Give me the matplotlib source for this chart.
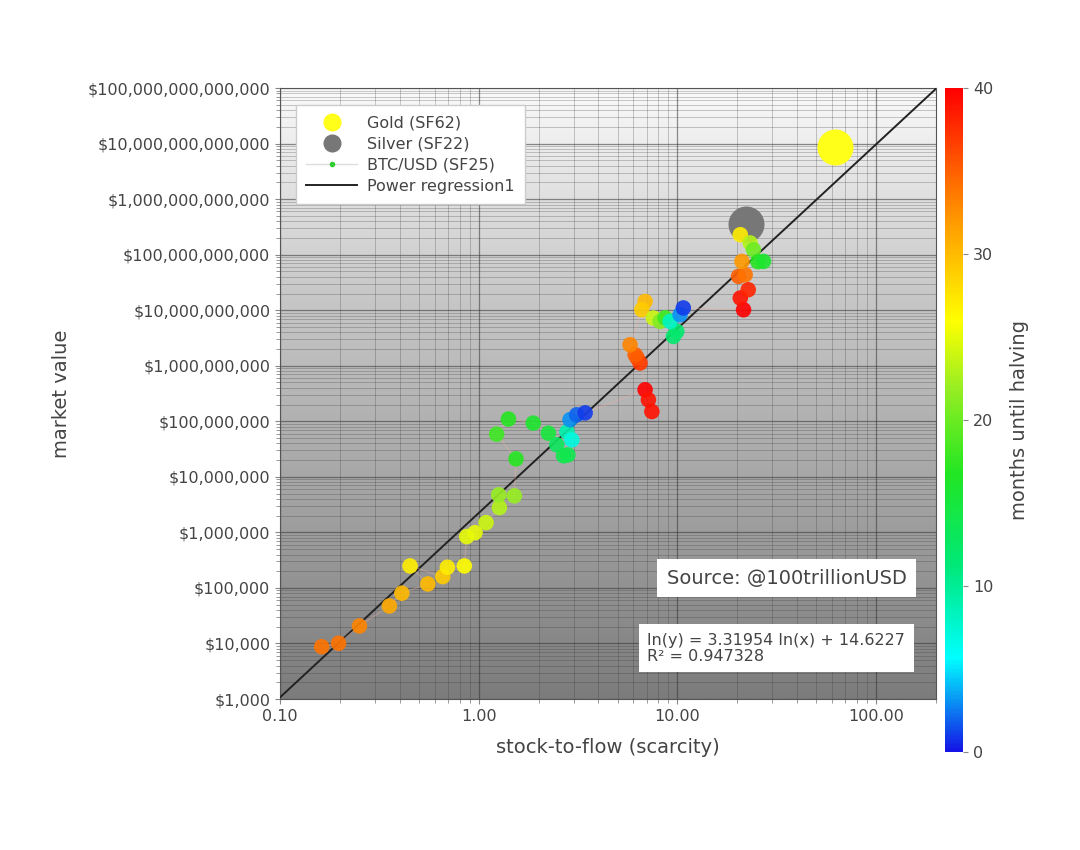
import matplotlib
matplotlib.use("Agg")
import matplotlib.pyplot as plt
import matplotlib.ticker as mticker
from matplotlib.colors import LinearSegmentedColormap
from matplotlib.lines import Line2D
import numpy as np

# BTC/USD monthly points: stock-to-flow, market value, months until halving
btc_sf = [0.162, 0.197, 0.251, 0.355, 0.410, 0.554, 0.451, 0.659, 0.695, 0.846,
          0.870, 0.958, 1.088, 1.27, 1.26, 1.51, 1.54, 1.23, 1.41, 1.88,
          2.24, 2.47, 2.67, 2.81, 2.78, 2.94, 2.88, 3.11, 3.43,
          6.87, 7.14, 7.43, 6.48, 6.26, 6.12, 5.77, 6.87, 6.61, 7.56,
          8.17, 8.66, 9.54, 9.92, 9.18, 10.3, 10.7,
          21.5, 20.7, 22.7, 20.3, 21.9, 21.1, 20.7, 23.2, 24.1, 25.4, 27.1]
btc_value = [8750, 10090, 20650, 47400, 80400, 118000, 249000, 160000, 236000, 249000,
             840000, 991000, 1.50e6, 2.80e6, 4.74e6, 4.55e6, 2.11e7, 5.87e7, 1.10e8, 9.29e7,
             6.12e7, 3.78e7, 2.39e7, 2.49e7, 6.47e7, 4.64e7, 1.07e8, 1.31e8, 1.42e8,
             3.70e8, 2.44e8, 1.50e8, 1.12e9, 1.39e9, 1.58e9, 2.39e9, 1.44e10, 1.02e10, 7.25e9,
             6.29e9, 7.33e9, 3.37e9, 4.15e9, 6.29e9, 8.30e9, 1.10e10,
             1.02e10, 1.66e10, 2.34e10, 4.07e10, 4.36e10, 7.57e10, 2.29e11, 1.63e11, 1.23e11, 7.48e10, 7.57e10]
btc_months = [34, 34, 33, 31, 30, 30, 27, 29, 27, 26,
              25, 25, 24, 23, 22, 22, 17, 18, 17, 16,
              15, 13, 14, 14, 9, 7, 3, 2, 1,
              40, 39, 39, 37, 36, 35, 33, 30, 29, 24,
              21, 18, 12, 12, 8, 3, 1,
              40, 39, 38, 35, 34, 32, 27, 23, 20, 17, 16]

gold_sf, gold_value = 62, 8.8e12
silver_sf, silver_value = 22, 3.5e11

reg_a, reg_b = 3.31954, 14.6227
r2 = 0.947328

cmap = LinearSegmentedColormap.from_list("halving", [
    (0.0, "#1414e6"), (0.14, "#00ffff"), (0.28, "#00e878"), (0.42, "#22e622"),
    (0.55, "#99ee22"), (0.65, "#ffff00"), (0.8, "#ff9a00"), (1.0, "#ff0000")])

fig = plt.figure(figsize=(10.8, 8.5), dpi=100)
ax = fig.add_axes([0.2593, 0.1776, 0.6074, 0.7188])
cax = fig.add_axes([0.875, 0.1153, 0.0167, 0.7812])

ax.set_xscale("log")
ax.set_yscale("log")
ax.set_xlim(0.1, 200)
ax.set_ylim(1e3, 1e14)

# gray gradient background
grad = np.linspace(0, 1, 256).reshape(-1, 1)
ax.imshow(grad, cmap=LinearSegmentedColormap.from_list(
    "bg", ["#7c7c7c", "#a4a4a4", "#c8c8c8", "#fafafa"]), aspect="auto",
    extent=[0, 1, 0, 1], transform=ax.transAxes, origin="lower", zorder=0)

ax.yaxis.set_major_locator(mticker.LogLocator(base=10, numticks=20))
ax.yaxis.set_minor_locator(mticker.LogLocator(base=10, subs=np.arange(2, 10), numticks=20))
ax.xaxis.set_minor_locator(mticker.LogLocator(base=10, subs=np.arange(2, 10), numticks=20))
ax.grid(True, which="major", color="#333333", lw=0.9, alpha=0.55, zorder=1)
ax.grid(True, which="minor", color="#333333", lw=0.6, alpha=0.3, zorder=1)
ax.set_axisbelow(True)

ax.yaxis.set_major_formatter(mticker.FuncFormatter(lambda v, p: "${:,.0f}".format(v)))
ax.xaxis.set_major_formatter(mticker.FuncFormatter(lambda v, p: "{:.2f}".format(v)))
ax.yaxis.set_minor_formatter(mticker.NullFormatter())
ax.xaxis.set_minor_formatter(mticker.NullFormatter())
ax.tick_params(which="both", labelsize=11.5, labelcolor="#444444", color="#888888")
ax.tick_params(which="minor", length=3)

# regression line
xs = np.logspace(-1, np.log10(200), 100)
ax.plot(xs, np.exp(reg_b) * xs ** reg_a, color="#222222", lw=1.4, zorder=3)

ax.scatter([gold_sf], [gold_value], s=620, color="#ffff1a", zorder=4)
ax.scatter([silver_sf], [silver_value], s=620, color="#777777", zorder=4)

ax.plot(btc_sf, btc_value, color="#f0b0a0", lw=0.7, alpha=0.45, zorder=3)
sc = ax.scatter(btc_sf, btc_value, c=btc_months, cmap=cmap, vmin=0, vmax=40,
                s=125, alpha=0.9, edgecolors="none", zorder=5)

h_gold = Line2D([], [], ls="none", marker="o", markersize=12, color="#ffff1a")
h_silver = Line2D([], [], ls="none", marker="o", markersize=12, color="#777777")
h_btc = Line2D([], [], color="#dddddd", lw=1, marker=".", markersize=6,
               markerfacecolor="#33cc33", markeredgecolor="#33cc33")
h_reg = Line2D([], [], color="#222222", lw=1.4)
ax.legend([h_gold, h_silver, h_btc, h_reg],
          ["Gold (SF62)", "Silver (SF22)", "BTC/USD (SF25)", "Power regression1"],
          loc="upper left", bbox_to_anchor=(0.024, 0.972), borderaxespad=0,
          fontsize=11.5, fancybox=False, framealpha=1, edgecolor="#cccccc",
          handlelength=3.2, handletextpad=0.6, labelspacing=0.38, borderpad=0.65,
          labelcolor="#444444")

ax.text(0.955, 0.198, "Source: @100trillionUSD", transform=ax.transAxes,
        ha="right", va="center", fontsize=14, color="#444444", zorder=6,
        bbox=dict(facecolor="white", edgecolor="none", pad=7))
ax.text(0.56, 0.083, "ln(y) = 3.31954 ln(x) + 14.6227\nR² = 0.947328",
        transform=ax.transAxes, ha="left", va="center", fontsize=11.5,
        color="#444444", zorder=6, linespacing=1.1,
        bbox=dict(facecolor="white", edgecolor="none", pad=6))

ax.set_xlabel("stock-to-flow (scarcity)", fontsize=14, color="#444444", labelpad=10)
ax.set_ylabel("market value", fontsize=14, color="#444444", labelpad=12)
for s in ax.spines.values():
    s.set_color("#555555")

cb = fig.colorbar(sc, cax=cax)
cb.solids.set_alpha(1)
cb.set_ticks([0, 10, 20, 30, 40])
cb.ax.tick_params(labelsize=11.5, labelcolor="#444444", color="#888888")
cb.outline.set_visible(False)
cb.set_label("months until halving", fontsize=14, color="#444444", labelpad=12)

fig.savefig("out.png", dpi=100)
